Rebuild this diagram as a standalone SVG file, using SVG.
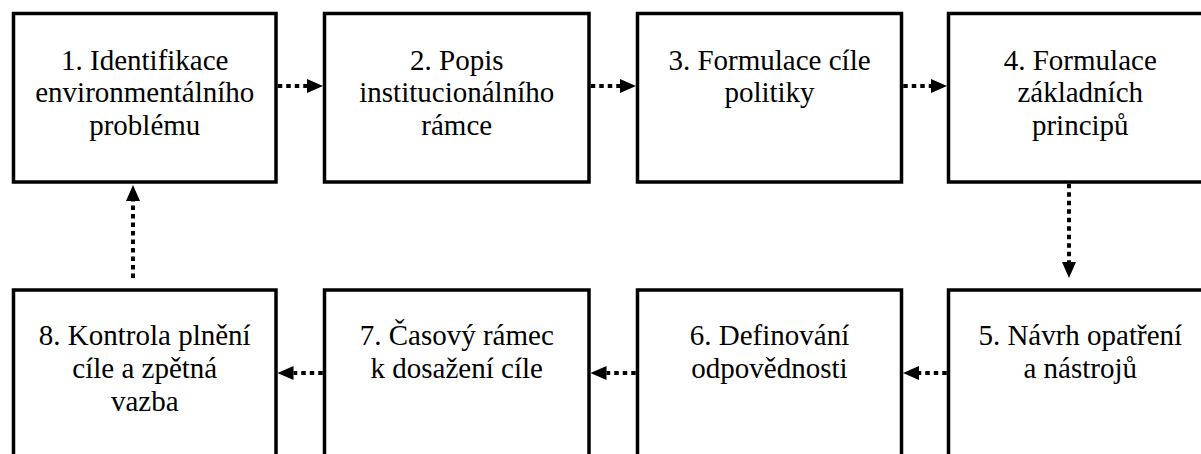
<svg xmlns="http://www.w3.org/2000/svg" width="1201" height="454" viewBox="0 0 1201 454">
<style>
.box{fill:#fff;stroke:#000;stroke-width:3.5}
.lbl{font-size:29px;fill:#000;text-anchor:middle}
.conn{fill:none;stroke:#000;stroke-width:4;stroke-dasharray:4.5 4}
</style>
<defs>
<marker id="ah" viewBox="0 0 16 14" refX="0" refY="7" markerWidth="16" markerHeight="14" markerUnits="userSpaceOnUse" orient="auto">
<path d="M0,0 L16,7 L0,14 z" fill="#000"/>
</marker>
</defs>
<rect width="1201" height="454" fill="#fff"/>
<g id="connectors">
<path class="conn" d="M277.75,86 H307" marker-end="url(#ah)"/>
<path class="conn" d="M590.75,86 H620" marker-end="url(#ah)"/>
<path class="conn" d="M903.25,86 H931" marker-end="url(#ah)"/>
<path class="conn" d="M1069,183.75 V262" marker-end="url(#ah)"/>
<path class="conn" d="M946.75,373 H919" marker-end="url(#ah)"/>
<path class="conn" d="M635.75,373 H606.5" marker-end="url(#ah)"/>
<path class="conn" d="M322.75,373 H293.5" marker-end="url(#ah)"/>
<path class="conn" d="M133,278 V201" marker-end="url(#ah)"/>
</g>
<g id="n1" font-family="'Times New Roman', 'Liberation Serif', serif">
<rect class="box" x="13.5" y="13.5" width="262.5" height="168.5"/>
<text class="lbl" x="144.75" y="69.5">1. Identifikace</text>
<text class="lbl" x="144.75" y="102">environmentálního</text>
<text class="lbl" x="144.75" y="134.5">problému</text>
</g>
<g id="n2" font-family="'Times New Roman', 'Liberation Serif', serif">
<rect class="box" x="324.5" y="13.5" width="264.5" height="168.5"/>
<text class="lbl" x="456.75" y="69.5">2. Popis</text>
<text class="lbl" x="456.75" y="102">institucionálního</text>
<text class="lbl" x="456.75" y="134.5">rámce</text>
</g>
<g id="n3" font-family="'Times New Roman', 'Liberation Serif', serif">
<rect class="box" x="637.5" y="13.5" width="264" height="168.5"/>
<text class="lbl" x="769.5" y="69.5">3. Formulace cíle</text>
<text class="lbl" x="769.5" y="102">politiky</text>
</g>
<g id="n4" font-family="'Times New Roman', 'Liberation Serif', serif">
<rect class="box" x="948.5" y="13.5" width="263.5" height="168.5"/>
<text class="lbl" x="1080.25" y="69.5">4. Formulace</text>
<text class="lbl" x="1080.25" y="102">základních</text>
<text class="lbl" x="1080.25" y="134.5">principů</text>
</g>
<g id="n5" font-family="'Times New Roman', 'Liberation Serif', serif">
<rect class="box" x="948.5" y="290" width="263.5" height="168.5"/>
<text class="lbl" x="1080.25" y="344.5">5. Návrh opatření</text>
<text class="lbl" x="1080.25" y="377.5">a nástrojů</text>
</g>
<g id="n6" font-family="'Times New Roman', 'Liberation Serif', serif">
<rect class="box" x="637.5" y="290" width="264" height="168.5"/>
<text class="lbl" x="769.5" y="344.5">6. Definování</text>
<text class="lbl" x="769.5" y="377.5">odpovědnosti</text>
</g>
<g id="n7" font-family="'Times New Roman', 'Liberation Serif', serif">
<rect class="box" x="324.5" y="290" width="264.5" height="168.5"/>
<text class="lbl" x="456.75" y="344.5">7. Časový rámec</text>
<text class="lbl" x="456.75" y="377.5">k dosažení cíle</text>
</g>
<g id="n8" font-family="'Times New Roman', 'Liberation Serif', serif">
<rect class="box" x="13.5" y="290" width="262.5" height="168.5"/>
<text class="lbl" x="144.75" y="344.5">8. Kontrola plnění</text>
<text class="lbl" x="144.75" y="377.5">cíle a zpětná</text>
<text class="lbl" x="144.75" y="410.5">vazba</text>
</g>
</svg>
